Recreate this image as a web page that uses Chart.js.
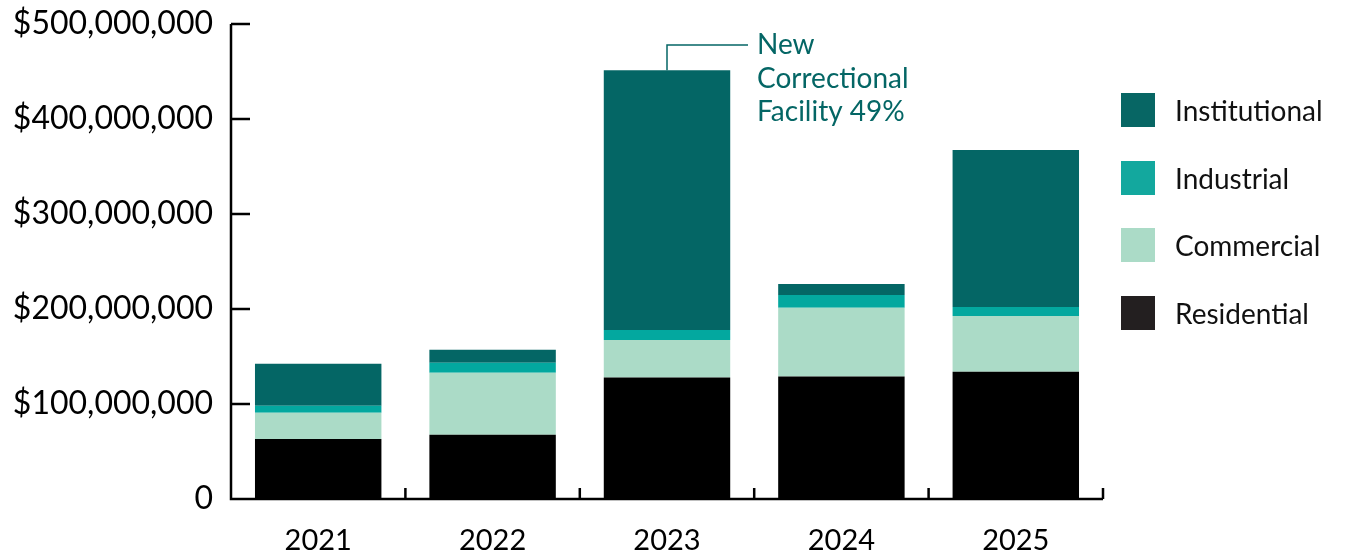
<!DOCTYPE html>
<html>
<head>
<meta charset="utf-8">
<script src="https://cdn.jsdelivr.net/npm/chart.js@4"></script>
<style>
  html, body { margin: 0; padding: 0; background: #fff; }
  #wrap { position: relative; width: 1348px; height: 557px; }
  #legend { position: absolute; left: 1121px; top: 93px; font-family: Lato, sans-serif; font-size: 28px; color: #111; }
  #legend div { display: flex; align-items: center; height: 34px; margin-bottom: 33.5px; }
  #legend span.box { width: 34px; height: 34px; margin-right: 20px; }
</style>
</head>
<body>
<div id="wrap">
  <canvas id="chart" width="1348" height="557"></canvas>
  <div id="legend"></div>
</div>
<script>
const years = ['2021', '2022', '2023', '2024', '2025'];
const residential = [63.1e6, 67.6e6, 127.9e6, 128.9e6, 133.9e6];
const commercial = [27.6e6, 65.2e6, 39.6e6, 72.3e6, 58.8e6];
const industrial = [7.4e6, 10.5e6, 10.5e6, 13.6e6, 9.5e6];
const institutional = [44.2e6, 13.7e6, 273.4e6, 11.6e6, 165.1e6];
const yTicks = [0, 100e6, 200e6, 300e6, 400e6, 500e6];
const noteLines = ['New', 'Correctional', 'Facility 49%'];
const noteIndex = 2;

const series = [
    { label: 'Residential', data: residential, color: '#000000', legendColor: '#231f20' },
    { label: 'Commercial', data: commercial, color: '#abdbc7', legendColor: '#abdbc7' },
    { label: 'Industrial', data: industrial, color: '#03a89f', legendColor: '#13a89e' },
    { label: 'Institutional', data: institutional, color: '#046665', legendColor: '#076664' },
];

const FONT = 'Lato, sans-serif';
const TEAL = '#046665';

// legend, top item is the last stacked series
const legendEl = document.getElementById('legend');
series.slice().reverse().forEach(s => {
    const row = document.createElement('div');
    row.innerHTML = '<span class="box" style="background:' + s.legendColor + '"></span>' + s.label;
    legendEl.appendChild(row);
});

function fmt(v) {
    if (v === 0) return '0';
    return '$' + v.toLocaleString('en-US');
}

// axes lines, inward ticks and the callout
const axesPlugin = {
    id: 'axesPlugin',
    afterDatasetsDraw(chart) {
        const { ctx, chartArea, scales } = chart;
        const x = scales.x, y = scales.y;
        ctx.save();
        ctx.strokeStyle = '#000';
        ctx.lineWidth = 2.5;
        ctx.beginPath();
        ctx.moveTo(chartArea.left, y.getPixelForValue(500e6));
        ctx.lineTo(chartArea.left, chartArea.bottom);
        ctx.lineTo(chartArea.right, chartArea.bottom);
        yTicks.forEach(v => {
            const py = y.getPixelForValue(v);
            ctx.moveTo(chartArea.left, py);
            ctx.lineTo(chartArea.left + 19, py);
        });
        for (let i = 0; i < years.length; i++) {
            const px = x.getPixelForValue(i) + (x.getPixelForValue(1) - x.getPixelForValue(0)) / 2;
            ctx.moveTo(px, chartArea.bottom);
            ctx.lineTo(px, chartArea.bottom - 11);
        }
        ctx.stroke();

        // callout for 2023
        const total = residential[noteIndex] + commercial[noteIndex] + industrial[noteIndex] + institutional[noteIndex];
        const bx = x.getPixelForValue(noteIndex);
        const by = y.getPixelForValue(total);
        const ly = chartArea.top + 21;
        ctx.strokeStyle = TEAL;
        ctx.lineWidth = 1.5;
        ctx.beginPath();
        ctx.moveTo(bx, by);
        ctx.lineTo(bx, ly);
        ctx.lineTo(bx + 81, ly);
        ctx.stroke();
        ctx.fillStyle = TEAL;
        ctx.font = '28px ' + FONT;
        ctx.textBaseline = 'middle';
        ctx.textAlign = 'left';
        noteLines.forEach((t, i) => ctx.fillText(t, bx + 90, ly + i * 33.5));
        ctx.restore();
    }
};

new Chart(document.getElementById('chart'), {
    type: 'bar',
    data: {
        labels: years,
        datasets: series.map(s => ({
            label: s.label,
            data: s.data,
            backgroundColor: s.color,
            borderWidth: 0,
            categoryPercentage: 1,
            barPercentage: 0.725,
        })),
    },
    options: {
        responsive: false,
        animation: false,
        layout: { padding: { left: 0, right: 245, top: 24, bottom: 0 } },
        plugins: {
            legend: { display: false },
            tooltip: { enabled: false },
        },
        scales: {
            x: {
                stacked: true,
                grid: { display: false, drawTicks: false },
                border: { display: false },
                ticks: { color: '#000', font: { family: FONT, size: 29 }, padding: 24 },
                afterFit(scale) { scale.height = 58; scale.paddingLeft = 0; scale.paddingRight = 0; },
            },
            y: {
                stacked: true,
                min: 0,
                max: 500e6,
                grid: { display: false, drawTicks: false },
                border: { display: false },
                afterBuildTicks(scale) { scale.ticks = yTicks.map(v => ({ value: v })); },
                ticks: {
                    color: '#000',
                    font: { family: FONT, size: 32 },
                    padding: 18,
                    callback: v => fmt(v),
                },
                afterFit(scale) { scale.width = 231; scale.paddingTop = 0; scale.paddingBottom = 0; },
            },
        },
    },
    plugins: [axesPlugin],
});
</script>
</body>
</html>
